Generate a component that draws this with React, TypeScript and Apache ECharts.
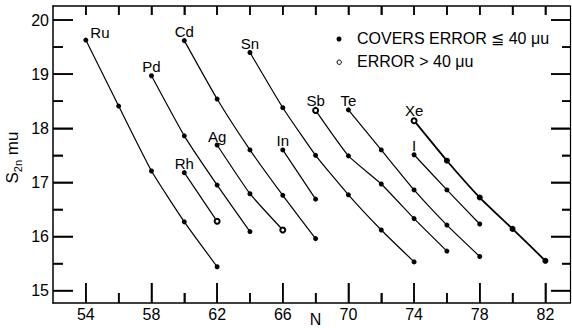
import React, { useEffect, useRef } from "react";
import * as echarts from "echarts";

// N (neutron number) vs S2n (mu)
const ru = [[54, 19.63], [56, 18.41], [58, 17.21], [60, 16.27], [62, 15.44]];
const pd = [[58, 18.97], [60, 17.86], [62, 16.95], [64, 16.09]];
const rh = [[60, 17.18], [62, 16.28]];
const cd = [[60, 19.62], [62, 18.54], [64, 17.6], [66, 16.76], [68, 15.96]];
const ag = [[62, 17.69], [64, 16.79], [66, 16.12]];
const inn = [[66, 17.6], [68, 16.69]];
const sn = [[64, 19.4], [66, 18.38], [68, 17.5], [70, 16.77], [72, 16.12], [74, 15.53]];
const sb = [[68, 18.33], [70, 17.49], [72, 16.97], [74, 16.33], [76, 15.73]];
const te = [[70, 18.34], [72, 17.6], [74, 16.86], [76, 16.21], [78, 15.63]];
const iod = [[74, 17.51], [76, 16.86], [78, 16.23]];
const xe = [[74, 18.14], [76, 17.4], [78, 16.72], [80, 16.14], [82, 15.55]];

// points with error > 40 mu (open circles): [element, N]
const openPoints: [string, number][] = [["Rh", 62], ["Ag", 66], ["Sb", 68], ["Xe", 74]];

const elements: [string, number[][]][] = [
  ["Ru", ru], ["Pd", pd], ["Rh", rh], ["Cd", cd], ["Ag", ag], ["In", inn],
  ["Sn", sn], ["Sb", sb], ["Te", te], ["I", iod], ["Xe", xe],
];

const xMajor = [54, 58, 62, 66, 70, 74, 78, 82];
const xMinor = [56, 60, 64, 68, 72, 76, 80];
const xAll = [54, 56, 58, 60, 62, 64, 66, 68, 70, 72, 74, 76, 78, 80, 82];
const yMajor = [15, 16, 17, 18, 19, 20];
const yMinor = [15.5, 16.5, 17.5, 18.5, 19.5];

const legendFilled = "COVERS ERROR ≦ 40 μu";
const legendOpen = "ERROR > 40 μu";

const FONT = "Liberation Sans";

export default function App() {
  const ref = useRef<HTMLDivElement>(null);
  useEffect(() => {
    document.body.style.margin = "0";
    const chart = echarts.init(ref.current!, null, { renderer: "svg" });
    const G = { left: 53, right: 2, top: 6, bottom: 25 };
    const X = { min: 52, max: 83.5 };
    const Y = { min: 14.77, max: 20.26 };
    const black = "#000";
    const tickW = 1.5;

    const lineSeries = elements.map(([name, pts]) => {
      const thick = name === "Xe";
      return {
        type: "line",
        name,
        xAxisIndex: 0,
        yAxisIndex: 0,
        smooth: 0.15,
        symbolSize: thick ? 6 : 5,
        lineStyle: { color: black, width: thick ? 1.8 : 1.2 },
        itemStyle: { color: black },
        label: {
          show: false,
          formatter: "{a}",
          color: black,
          fontSize: 15,
          fontFamily: FONT,
          position: name === "Ru" ? "right" : "top",
          distance: name === "Ru" ? 2 : 0,
          offset: name === "Ru" ? [0, -8] : [0, 1],
        },
        data: pts.map(([n, s], i) => {
          const open = openPoints.some(([e, on]) => e === name && on === n);
          return {
            value: [n, s],
            symbol: open ? "emptyCircle" : "circle",
            symbolSize: open ? 5 : thick ? 6 : 5,
            itemStyle: open
              ? { color: black, borderColor: black, borderWidth: 0.8 }
              : { color: black, borderWidth: 0 },
            label: i === 0 ? { show: true } : undefined,
          };
        }),
      };
    });

    const tickAxis = (pos: string, range: any, values: number[], len: number) => ({
      type: "value", position: pos, ...range,
      axisLine: { show: false },
      axisTick: { show: true, inside: true, length: len, customValues: values, lineStyle: { color: black, width: tickW } },
      axisLabel: { show: false, customValues: values },
      splitLine: { show: false },
    });

    chart.setOption({
      animation: false,
      grid: { ...G, containLabel: false, outerBoundsMode: "none" },
      xAxis: [
        {
          type: "value", position: "bottom", ...X,
          name: "N", nameLocation: "middle", nameGap: 8, nameMoveOverlap: false,
          nameTextStyle: { color: black, fontSize: 16, fontFamily: FONT, padding: [0, 0, 0, 8] },
          axisLine: { show: true, lineStyle: { color: black, width: 1.5 } },
          axisTick: { show: true, inside: true, length: 20, customValues: xMajor, lineStyle: { color: black, width: tickW } },
          axisLabel: { show: true, customValues: xMajor, color: black, fontSize: 16, fontFamily: FONT, margin: 3 },
          splitLine: { show: false },
        },
        tickAxis("bottom", X, xMinor, 10),
        {
          type: "value", position: "top", ...X,
          axisLine: { show: true, lineStyle: { color: black, width: 1.5 } },
          axisTick: { show: true, inside: true, length: 9, customValues: xAll, lineStyle: { color: black, width: tickW } },
          axisLabel: { show: false, customValues: xAll },
          splitLine: { show: false },
        },
      ],
      yAxis: [
        {
          type: "value", position: "left", ...Y,
          name: "{a|S}{b|2n}{a| mu}", nameLocation: "middle", nameRotate: 90, nameGap: 30, nameMoveOverlap: false,
          nameTextStyle: {
            color: black, fontFamily: FONT, padding: [0, 6, 0, 0],
            rich: {
              a: { fontSize: 17, fontFamily: FONT, color: black, lineHeight: 22, verticalAlign: "middle" },
              b: { fontSize: 11, fontFamily: FONT, color: black, lineHeight: 22, verticalAlign: "bottom" },
            },
          },
          axisLine: { show: true, lineStyle: { color: black, width: 1.5 } },
          axisTick: { show: true, inside: true, length: 20, customValues: yMajor, lineStyle: { color: black, width: tickW } },
          axisLabel: { show: true, customValues: yMajor, color: black, fontSize: 16, fontFamily: FONT, margin: 4 },
          splitLine: { show: false },
        },
        tickAxis("left", Y, yMinor, 10),
        {
          type: "value", position: "right", ...Y,
          axisLine: { show: true, lineStyle: { color: black, width: 1.2 } },
          axisTick: { show: true, inside: true, length: 19, customValues: yMajor, lineStyle: { color: black, width: tickW } },
          axisLabel: { show: false, customValues: yMajor },
          splitLine: { show: false },
        },
        tickAxis("right", Y, yMinor, 8),
      ],
      series: lineSeries,
    });

    // tick marks also placed on top, converted through the axis scales
    const finder = { xAxisIndex: 0, yAxisIndex: 0 };
    const px = (x: number, y: number) => chart.convertToPixel(finder, [x, y]) as number[];
    const ticks: any[] = [];
    const vTick = (v: number, atTop: boolean, len: number) => {
      const p = px(v, atTop ? Y.max : Y.min);
      ticks.push({
        type: "rect", silent: true, z: 100,
        shape: { x: p[0] - tickW / 2, y: atTop ? p[1] : p[1] - len, width: tickW, height: len },
        style: { fill: black },
      });
    };
    const hTick = (v: number, atRight: boolean, len: number) => {
      const p = px(atRight ? X.max : X.min, v);
      ticks.push({
        type: "rect", silent: true, z: 100,
        shape: { x: atRight ? p[0] - len : p[0], y: p[1] - tickW / 2, width: len, height: tickW },
        style: { fill: black },
      });
    };
    xMajor.forEach((v) => vTick(v, false, 20));
    xMinor.forEach((v) => vTick(v, false, 10));
    xAll.forEach((v) => vTick(v, true, 9));
    yMajor.forEach((v) => { hTick(v, false, 20); hTick(v, true, 19); });
    yMinor.forEach((v) => { hTick(v, false, 10); hTick(v, true, 8); });

    chart.setOption({
      graphic: [
        { type: "circle", left: 336.5, top: 36.5, shape: { r: 2.5 }, style: { fill: black } },
        { type: "text", left: 357, top: 30, style: { text: legendFilled, fill: black, fontSize: 16, fontFamily: FONT } },
        { type: "circle", left: 336.5, top: 59.5, shape: { r: 2.2 }, style: { fill: "#fff", stroke: black, lineWidth: 1 } },
        { type: "text", left: 357, top: 53, style: { text: legendOpen, fill: black, fontSize: 16, fontFamily: FONT } },
        ...ticks,
      ],
    });
    return () => chart.dispose();
  }, []);
  return <div ref={ref} style={{ position: "absolute", left: 0, top: 0, width: 572, height: 328 }} />;
}
